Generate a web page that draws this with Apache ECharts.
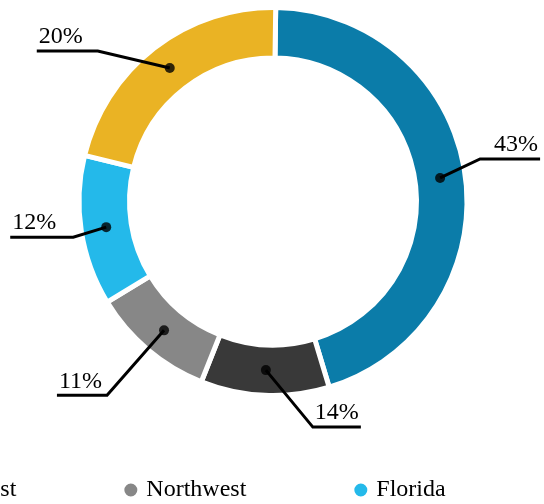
<!DOCTYPE html>
<html lang="en">
<head>
   <meta charset="UTF-8">
   <title>Regional share</title>
   <script src="https://cdn.jsdelivr.net/npm/echarts@6/dist/echarts.min.js"></script>
   <style>
      html, body { margin: 0; padding: 0; background: #fff; }
      #container { width: 544px; height: 504px; }
   </style>
</head>
<body>
   <div id="container"></div>
   <script>
      // data
      var regions = ['Southeast', 'Southwest', 'Northwest', 'Florida', 'Northeast'];
      var shares = [45.1, 10.7, 10.3, 12.5, 21.4];
      var shareLabels = ['43%', '14%', '11%', '12%', '20%'];
      var colors = ['#0b7ca9', '#393939', '#878787', '#24b9ea', '#eab324'];

      // layout
      var CX = 273, CY = 201.5;
      var R_IN = 146, R_OUT = 191.5;
      var R_DOT = (R_IN + R_OUT) / 2;
      var START = 89.2;
      var FONT = "'Liberation Serif', 'Times New Roman', serif";
      // elbow offset of each leader line from its dot, and text gap from the elbow
      var leaderOffsets = [[40, -19], [47, 57], [-57, 65], [-33, 10], [-72, -17]];
      var leaderGaps = [14, 2, 5, 17, 15];

      var total = shares.reduce(function (a, b) { return a + b; }, 0);
      var dots = [];
      var acc = 0;
      for (var i = 0; i < shares.length; i++) {
         dots.push([R_DOT, acc + shares[i] / 2]);
         acc += shares[i];
      }

      var pieData = regions.map(function (name, k) {
         return { name: name, value: shares[k] };
      });

      var myChart = echarts.init(document.getElementById('container'));

      var option = {
         animation: false,
         color: colors,
         legend: {
            data: regions,
            icon: 'circle',
            itemWidth: 15,
            itemHeight: 15,
            itemGap: 106,
            left: -336,
            top: 473,
            textStyle: { fontFamily: FONT, fontSize: 24, color: '#000', padding: [0, 0, 0, 3] }
         },
         polar: { center: [CX, CY], radius: R_OUT },
         angleAxis: {
            type: 'value', min: 0, max: total, startAngle: START, clockwise: true,
            axisLine: { show: false }, axisTick: { show: false },
            axisLabel: { show: false }, splitLine: { show: false }
         },
         radiusAxis: {
            type: 'value', min: 0, max: R_OUT,
            axisLine: { show: false }, axisTick: { show: false },
            axisLabel: { show: false }, splitLine: { show: false }
         },
         series: [
            {
               type: 'pie',
               center: [CX, CY],
               radius: [R_IN - 2.5, R_OUT + 2.5],
               startAngle: START,
               clockwise: true,
               itemStyle: { borderColor: '#fff', borderWidth: 5 },
               emphasis: { disabled: true },
               label: { show: false },
               labelLine: { show: false },
               data: pieData
            },
            {
               // transparent copy that carries the leader lines above the ring
               type: 'pie',
               center: [CX, CY],
               radius: [0, R_DOT],
               startAngle: START,
               clockwise: true,
               silent: true,
               z: 4,
               avoidLabelOverlap: false,
               itemStyle: { color: 'rgba(0,0,0,0)', borderWidth: 0 },
               emphasis: { disabled: true },
               label: {
                  show: true,
                  position: 'outside',
                  fontFamily: FONT,
                  fontSize: 24,
                  color: '#000',
                  formatter: function (p) { return shareLabels[p.dataIndex]; }
               },
               labelLine: {
                  show: true, length: 20, length2: 20,
                  lineStyle: { color: '#000', width: 3 }
               },
               labelLayout: function (p) {
                  var pts = p.labelLinePoints;
                  if (!pts) return {};
                  var k = p.dataIndex;
                  var start = pts[0];
                  var off = leaderOffsets[k];
                  var sx = off[0] >= 0 ? 1 : -1;
                  var elbow = [start[0] + off[0], start[1] + off[1]];
                  var w = p.labelRect.width;
                  var tx = elbow[0] + sx * leaderGaps[k];
                  var end = [tx + sx * (w + 2), elbow[1]];
                  return {
                     x: tx,
                     y: elbow[1] - 2,
                     align: sx > 0 ? 'left' : 'right',
                     verticalAlign: 'bottom',
                     labelLinePoints: [start, elbow, end]
                  };
               },
               data: pieData
            },
            {
               type: 'scatter',
               coordinateSystem: 'polar',
               symbol: 'circle',
               symbolSize: 10,
               itemStyle: { color: '#000' },
               silent: true,
               z: 5,
               data: dots
            }
         ]
      };

      myChart.setOption(option);
   </script>
</body>
</html>
